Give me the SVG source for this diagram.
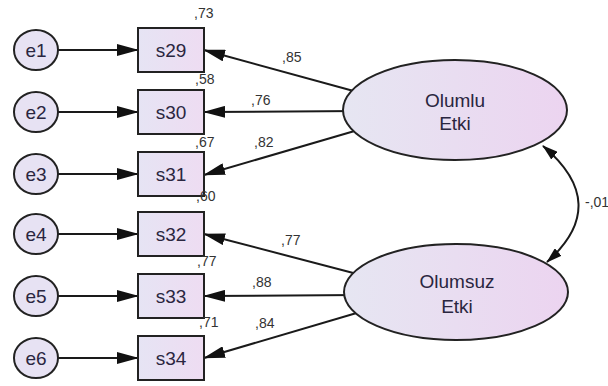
<svg xmlns="http://www.w3.org/2000/svg" width="608" height="386" viewBox="0 0 608 386">
<defs>
<linearGradient id="gBox" x1="0" y1="0" x2="1" y2="0">
<stop offset="0" stop-color="#e6e4f4"/><stop offset="1" stop-color="#eedcf2"/>
</linearGradient>
<linearGradient id="gEl" x1="0" y1="0" x2="1" y2="0">
<stop offset="0" stop-color="#e6e6f2"/><stop offset="1" stop-color="#ecd4f0"/>
</linearGradient>
<marker id="ah" viewBox="0 0 22 12" refX="21" refY="6" markerWidth="22" markerHeight="12" markerUnits="userSpaceOnUse" orient="auto">
<path d="M0,0 L22,6 L0,12 z" fill="#111"/>
</marker>
<marker id="ahs" viewBox="0 0 16 10" refX="15" refY="5" markerWidth="16" markerHeight="10" markerUnits="userSpaceOnUse" orient="auto-start-reverse">
<path d="M0,0 L16,5 L0,10 z" fill="#111"/>
</marker>
<style>
.c{fill:#e7e2f3;stroke:#222;stroke-width:2}
.b{fill:url(#gBox);stroke:#222;stroke-width:2}
.l{fill:url(#gEl);stroke:#222;stroke-width:2}
.t{font-family:"Liberation Sans",Arial,sans-serif;font-size:19px;fill:#2a2640;text-anchor:middle}
.n{font-family:"Liberation Sans",Arial,sans-serif;font-size:14px;fill:#333}
.a{stroke:#1a1a1a;stroke-width:2;fill:none;marker-end:url(#ah)}
</style>
</defs>
<rect width="608" height="386" fill="#fff"/>
<g id="connectors">
<line class="a" x1="58" y1="50" x2="138" y2="50"/>
<line class="a" x1="58" y1="112" x2="138" y2="112"/>
<line class="a" x1="58" y1="174" x2="138" y2="174"/>
<line class="a" x1="58" y1="234" x2="138" y2="234"/>
<line class="a" x1="58" y1="296" x2="138" y2="296"/>
<line class="a" x1="58" y1="358" x2="138" y2="358"/>
<line class="a" x1="360" y1="92.7" x2="204" y2="50"/>
<line class="a" x1="360" y1="111" x2="204" y2="112"/>
<line class="a" x1="358" y1="130" x2="204" y2="175"/>
<line class="a" x1="360" y1="274.7" x2="204" y2="234"/>
<line class="a" x1="360" y1="295" x2="204" y2="296"/>
<line class="a" x1="360" y1="312" x2="204" y2="358"/>
<path d="M543,146 Q612,204 547,262" stroke="#1a1a1a" stroke-width="2" fill="none" marker-start="url(#ahs)" marker-end="url(#ahs)"/>
<text class="n" x="282" y="62">,85</text>
<text class="n" x="251" y="105">,76</text>
<text class="n" x="254" y="147">,82</text>
<text class="n" x="281" y="245">,77</text>
<text class="n" x="252" y="287">,88</text>
<text class="n" x="255" y="328">,84</text>
<text class="n" x="585" y="207">-,01</text>
</g>
<g id="e1"><ellipse class="c" cx="36" cy="50" rx="22" ry="20"/><text class="t" x="36" y="57">e1</text></g>
<g id="e2"><ellipse class="c" cx="36" cy="112" rx="22" ry="20"/><text class="t" x="36" y="119">e2</text></g>
<g id="e3"><ellipse class="c" cx="36" cy="174" rx="22" ry="20"/><text class="t" x="36" y="181">e3</text></g>
<g id="e4"><ellipse class="c" cx="36" cy="234" rx="22" ry="20"/><text class="t" x="36" y="241">e4</text></g>
<g id="e5"><ellipse class="c" cx="36" cy="296" rx="22" ry="20"/><text class="t" x="36" y="303">e5</text></g>
<g id="e6"><ellipse class="c" cx="36" cy="358" rx="22" ry="20"/><text class="t" x="36" y="365">e6</text></g>
<g id="s29"><rect class="b" x="138" y="28" width="66" height="44"/><text class="t" x="171" y="57">s29</text><text class="n" x="194" y="18">,73</text></g>
<g id="s30"><rect class="b" x="138" y="90" width="66" height="44"/><text class="t" x="171" y="119">s30</text><text class="n" x="195" y="84">,58</text></g>
<g id="s31"><rect class="b" x="138" y="152" width="66" height="44"/><text class="t" x="171" y="181">s31</text><text class="n" x="195" y="147">,67</text></g>
<g id="s32"><rect class="b" x="138" y="212" width="66" height="44"/><text class="t" x="171" y="241">s32</text><text class="n" x="196" y="201">,60</text></g>
<g id="s33"><rect class="b" x="138" y="274" width="66" height="44"/><text class="t" x="171" y="303">s33</text><text class="n" x="197" y="266">,77</text></g>
<g id="s34"><rect class="b" x="138" y="336" width="66" height="44"/><text class="t" x="171" y="365">s34</text><text class="n" x="199" y="327">,71</text></g>
<g id="olumlu"><ellipse class="l" cx="455" cy="110" rx="112" ry="50"/><text class="t" x="455" y="107" font-size="20">Olumlu</text><text class="t" x="455" y="130" font-size="20">Etki</text></g>
<g id="olumsuz"><ellipse class="l" cx="456" cy="292" rx="112" ry="48"/><text class="t" x="457" y="288" font-size="20">Olumsuz</text><text class="t" x="457" y="313" font-size="20">Etki</text></g>
</svg>
